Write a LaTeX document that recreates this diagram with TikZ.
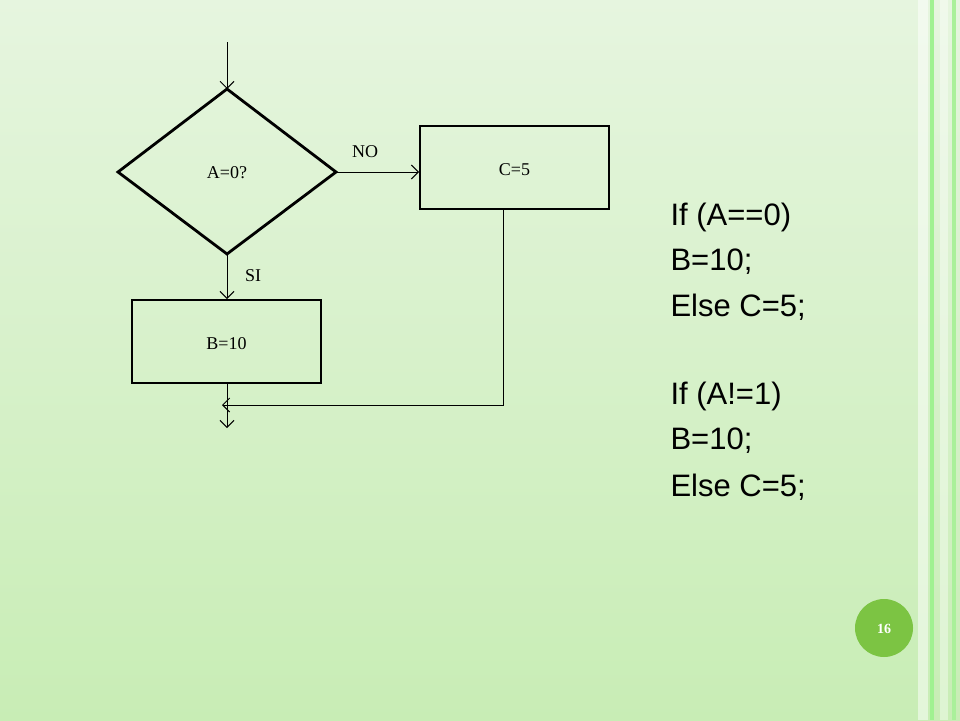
\documentclass[tikz,border=0pt]{standalone}
\usepackage{fontspec}
\setmainfont{Liberation Serif}
\setsansfont{Liberation Sans}
\usetikzlibrary{arrows.meta}
\definecolor{bgtop}{HTML}{E6F5DF}
\definecolor{bgbot}{HTML}{C8EDB5}
\definecolor{dotg}{HTML}{7CC443}
\begin{document}
\begin{tikzpicture}[x=1pt,y=-1pt,
  boxs/.style={draw,line width=2.8pt},
  lbl/.style={font=\fontsize{18}{20}\selectfont},
  code/.style={font=\sffamily\fontsize{31}{34}\selectfont,anchor=west},
  conn/.style={-{Straight Barb[length=7pt,width=14pt,line width=1pt]},line width=1pt}]
\useasboundingbox (0,0) rectangle (960,720);
\shade[top color=bgtop,bottom color=bgbot] (0,0) rectangle (960,720);
\fill[white,opacity=0.5] (918,0) rectangle (928,720);
\fill[bgbot!80!green] (930,0) rectangle (934,720);
\fill[white,opacity=0.4] (940,0) rectangle (948,720);
\fill[bgbot!85!green] (952,0) rectangle (956,720);
\draw[boxs,line join=miter] (227,89) coordinate (dt) -- (336,172) coordinate (dr) -- (227,254) coordinate (db) -- (118,172) -- cycle;
\node[lbl] (dtext) at (227,173) {A=0?};
\node[boxs,minimum width=189pt,minimum height=83pt] (c) at (514.5,167.5) {};
\node[lbl] at (514.5,170) {C=5};
\node[boxs,minimum width=189pt,minimum height=83pt] (b) at (226.5,341.5) {};
\node[lbl] at (226.5,344) {B=10};
\coordinate (in) at (227,42);
\coordinate (out) at (227,428);
\coordinate (cw) at (419,172);
\coordinate (cd) at (503,209);
\coordinate (corner) at (503,405);
\coordinate (join) at (222,405);
\draw[conn] (in) -- (dt);
\draw[conn] (db) -- (227,299);
\draw[conn] (dr) -- (cw);
\draw[conn] (cd) -- (corner) -- (join);
\draw[conn] (227,384) -- (out);
\node[lbl] (si) at (253,276) {SI};
\node[lbl] (no) at (365,152) {NO};
\node[code] at (667,217) {If (A==0)};
\node[code] at (667,262) {B=10;};
\node[code] at (667,307) {Else C=5;};
\node[code] at (667,396) {If (A!=1)};
\node[code] at (667,441) {B=10;};
\node[code] at (667,487) {Else C=5;};
\fill[dotg] (884,628) circle (29);
\node[text=white,font=\bfseries\fontsize{14}{16}\selectfont] (pg) at (884,629) {16};
\end{tikzpicture}
\end{document}
